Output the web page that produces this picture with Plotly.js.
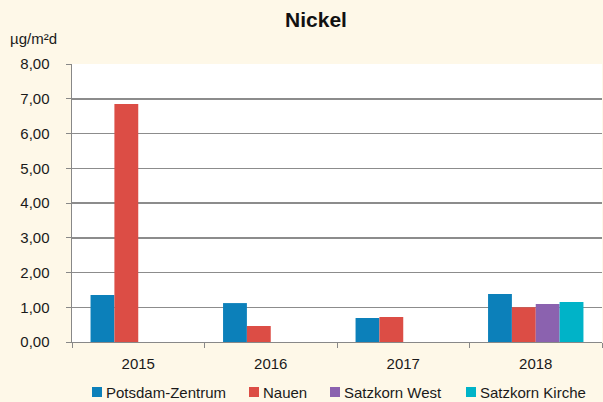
<!DOCTYPE html>
<html>
<head>
<meta charset="utf-8">
<script src="https://cdn.plot.ly/plotly-3.0.1.min.js"></script>
<style>html,body{margin:0;padding:0;background:#FEF8E8;}</style>
</head>
<body>
<div id="chart" style="width:603px;height:402px;"></div>
<script>
const years = ["2015", "2016", "2017", "2018"];
const seriesNames = ["Potsdam-Zentrum", "Nauen", "Satzkorn West", "Satzkorn Kirche"];
const potsdam = [1.35, 1.12, 0.69, 1.38];
const nauen = [6.85, 0.46, 0.72, 1.00];
const satzkornWest = [null, null, null, 1.09];
const satzkornKirche = [null, null, null, 1.15];
const colors = ["#0C80BA", "#DC4D45", "#8B62AF", "#00B3C8"];
const allValues = [potsdam, nauen, satzkornWest, satzkornKirche];

const traces = seriesNames.map((n, i) => ({
  type: "bar", name: n, x: years, y: allValues[i],
  marker: {color: colors[i]}, showlegend: false
}));

// layout geometry (pixels)
const W = 603, H = 402, ML = 72, MR = 1, MT = 64, MB = 60;
const PW = W - ML - MR, PH = H - MT - MB;
const px2x = p => (p - ML) / PW;
const px2y = p => (H - MB - p) / PH;
const legendBoxX = [92, 249, 330, 466];
const legendY = 392;

const font = {family: "Liberation Sans, Arial, sans-serif", size: 15, color: "#1a1a1a"};
const shapes = [], annotations = [];
seriesNames.forEach((n, i) => {
  shapes.push({type: "rect", xref: "paper", yref: "paper",
    x0: px2x(legendBoxX[i]), x1: px2x(legendBoxX[i] + 10),
    y0: px2y(legendY + 5), y1: px2y(legendY - 5),
    fillcolor: colors[i], line: {width: 0}});
  annotations.push({text: n, xref: "paper", yref: "paper", x: px2x(legendBoxX[i] + 12),
    y: px2y(legendY), xanchor: "left", yanchor: "middle", showarrow: false, font: font});
});
annotations.push({text: "µg/m²d", xref: "paper", yref: "paper", x: px2x(8), y: px2y(39),
  xanchor: "left", yanchor: "middle", showarrow: false, font: font});

const layout = {
  width: W, height: H,
  paper_bgcolor: "#FEF8E8", plot_bgcolor: "#FFFFFF",
  font: font,
  separators: ",.",
  margin: {l: ML, r: MR, t: MT, b: MB},
  title: {text: "<b>Nickel</b>", font: {family: "Liberation Sans, Arial, sans-serif", size: 21, color: "#111"},
          x: 316 / W, xanchor: "center", y: 1 - 20 / H, yanchor: "middle"},
  barmode: "group", bargap: 0.28, bargroupgap: 0,
  showlegend: false,
  xaxis: {type: "category", tickson: "boundaries", ticks: "outside", ticklen: 5, tickcolor: "#888",
          showline: true, linecolor: "#888", linewidth: 1, showgrid: false, tickfont: font,
          ticklabelstandoff: 8},
  yaxis: {range: [0, 8], dtick: 1, tickformat: ".2f", ticks: "outside", ticklen: 5, tickcolor: "#888",
          showline: true, linecolor: "#888", linewidth: 1.5, showgrid: true, gridcolor: "#8c8c8c", gridwidth: 1.5,
          zeroline: false, tickfont: font, ticklabelstandoff: 13},
  shapes: shapes,
  annotations: annotations
};
Plotly.newPlot("chart", traces, layout, {displayModeBar: false, staticPlot: true});
</script>
</body>
</html>
